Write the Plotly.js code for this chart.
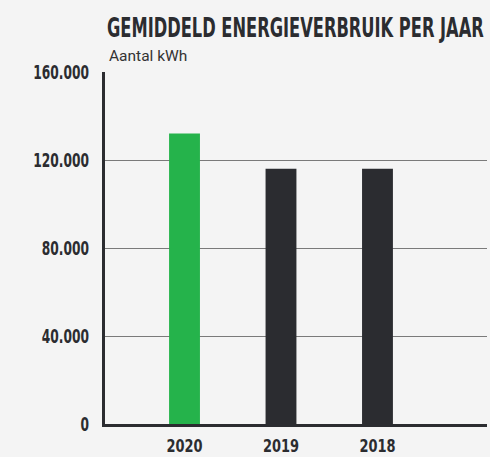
<!DOCTYPE html>
<html>
<head>
<meta charset="utf-8">
<script src="https://cdn.plot.ly/plotly-3.0.1.min.js"></script>
<style>
html,body{margin:0;padding:0;background:#f4f4f4;}
#chart{width:490px;height:457px;}
.xtick text, .ytick text, .g-gtitle text {font-stretch: condensed;}
</style>
</head>
<body>
<div id="chart"></div>
<script>
const categories = ["2020", "2019", "2018"];
const values = [132000, 116000, 116000];
const barColors = ["#25b34b", "#2b2c30", "#2b2c30"];
const tickValues = [0, 40000, 80000, 120000, 160000];

const condensed = "DejaVu Sans Condensed, DejaVu Sans, sans-serif";
const dark = "#2b2c30";

const data = [{
  type: "bar",
  x: categories,
  y: values,
  width: 0.32,
  marker: {color: barColors},
  hoverinfo: "none"
}];

const layout = {
  width: 490,
  height: 457,
  paper_bgcolor: "#f4f4f4",
  plot_bgcolor: "#f4f4f4",
  separators: ",.",
  margin: {l: 105, r: 3, t: 72, b: 33, pad: 0},
  showlegend: false,
  title: {
    text: "GEMIDDELD ENERGIEVERBRUIK PER JAAR",
    font: {family: condensed, size: 27, color: dark, weight: "bold"},
    xref: "container", yref: "container",
    x: 107/490, xanchor: "left",
    y: 1 - 28/457, yanchor: "middle"
  },
  annotations: [{
    text: "Aantal kWh",
    xref: "paper", yref: "paper",
    x: 0, xshift: 2, xanchor: "left",
    y: (424 - 56) / 352, yanchor: "middle",
    showarrow: false,
    font: {family: "Roboto, sans-serif", size: 15.5, color: "#333"}
  }],
  xaxis: {
    type: "category",
    range: [-0.824, 3.135],
    showline: true,
    linecolor: dark,
    linewidth: 3,
    showgrid: false,
    zeroline: false,
    ticks: "",
    ticklabelstandoff: 3,
    tickfont: {family: condensed, size: 18.5, color: dark, weight: "bold"},
    fixedrange: true
  },
  yaxis: {
    range: [0, 160000],
    tickvals: tickValues,
    tickformat: ",d",
    showline: true,
    linecolor: dark,
    linewidth: 3,
    showgrid: true,
    gridcolor: "#7a7a7a",
    gridwidth: 1,
    zeroline: false,
    ticks: "",
    ticklabelstandoff: 9,
    tickfont: {family: condensed, size: 20, color: dark, weight: "bold"},
    fixedrange: true
  }
};

function squeeze(selector, factor) {
  document.querySelectorAll(selector).forEach(function(t){
    if (t.getAttribute("data-sq")) return;
    const w = t.getComputedTextLength();
    if (w > 0) {
      t.setAttribute("textLength", (w * factor).toFixed(1));
      t.setAttribute("lengthAdjust", "spacingAndGlyphs");
      t.setAttribute("data-sq", "1");
    }
  });
}
function condenseTitle() {
  const t = document.querySelector(".g-gtitle text");
  if (!t || t.getAttribute("data-sq")) return;
  const w = t.getComputedTextLength();
  if (w <= 0) return;
  const s = 377 / w;
  const x0 = parseFloat(t.getAttribute("x")) || 0;
  t.setAttribute("transform", "translate(" + x0 + ",0) scale(" + s.toFixed(4) + ",1) translate(" + (-x0) + ",0)");
  t.setAttribute("data-sq", "1");
}
function condense() {
  condenseTitle();
  squeeze(".ytick text", 0.68);
  squeeze(".xtick text", 0.78);
}

const p = Plotly.newPlot("chart", data, layout, {displayModeBar: false, staticPlot: true});
condense();
p.then(condense);
</script>
</body>
</html>
